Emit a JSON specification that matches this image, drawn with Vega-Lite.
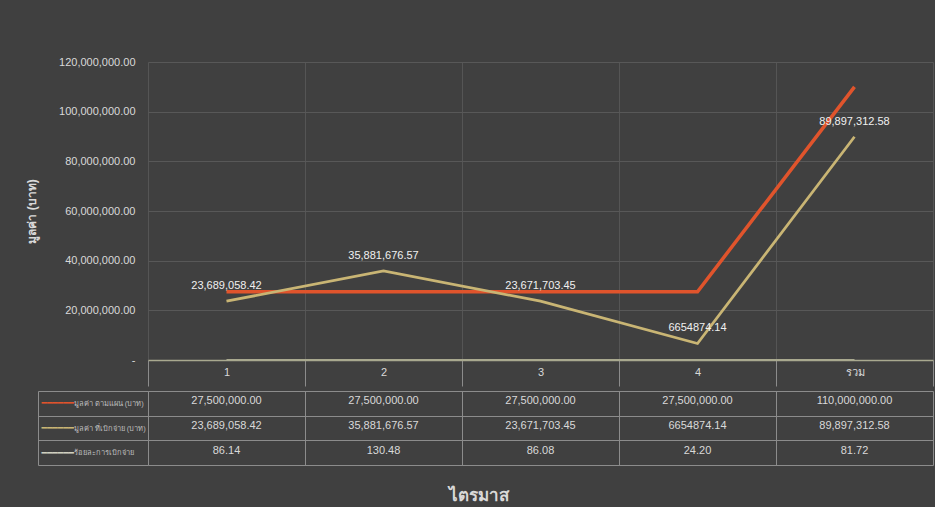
{
  "$schema": "https://vega.github.io/schema/vega-lite/v6.json",
  "background": "#404040",
  "padding": {"left": 25, "top": 56, "right": 2, "bottom": 4},
  "spacing": 0,
  "config": {
    "font": "Liberation Sans",
    "view": {"stroke": null},
    "axis": {"labelColor": "#d9d9d9", "titleColor": "#d9d9d9", "labelFont": "Liberation Sans", "titleFont": "Liberation Sans"}
  },
  "datasets": {
    "main": [
      {"q": "1", "s": "มูลค่า ตามแผน (บาท)", "v": 27500000, "t": "27,500,000.00"},
      {"q": "2", "s": "มูลค่า ตามแผน (บาท)", "v": 27500000, "t": "27,500,000.00"},
      {"q": "3", "s": "มูลค่า ตามแผน (บาท)", "v": 27500000, "t": "27,500,000.00"},
      {"q": "4", "s": "มูลค่า ตามแผน (บาท)", "v": 27500000, "t": "27,500,000.00"},
      {"q": "รวม", "s": "มูลค่า ตามแผน (บาท)", "v": 110000000, "t": "110,000,000.00"},
      {"q": "1", "s": "มูลค่า ที่เบิกจ่าย (บาท)", "v": 23689058.42, "t": "23,689,058.42"},
      {"q": "2", "s": "มูลค่า ที่เบิกจ่าย (บาท)", "v": 35881676.57, "t": "35,881,676.57"},
      {"q": "3", "s": "มูลค่า ที่เบิกจ่าย (บาท)", "v": 23671703.45, "t": "23,671,703.45"},
      {"q": "4", "s": "มูลค่า ที่เบิกจ่าย (บาท)", "v": 6654874.14, "t": "6654874.14"},
      {"q": "รวม", "s": "มูลค่า ที่เบิกจ่าย (บาท)", "v": 89897312.58, "t": "89,897,312.58"},
      {"q": "1", "s": "ร้อยละการเบิกจ่าย", "v": 86.14, "t": "86.14"},
      {"q": "2", "s": "ร้อยละการเบิกจ่าย", "v": 130.48, "t": "130.48"},
      {"q": "3", "s": "ร้อยละการเบิกจ่าย", "v": 86.08, "t": "86.08"},
      {"q": "4", "s": "ร้อยละการเบิกจ่าย", "v": 24.20, "t": "24.20"},
      {"q": "รวม", "s": "ร้อยละการเบิกจ่าย", "v": 81.72, "t": "81.72"}
    ]
  },
  "vconcat": [
    {
      "width": 785,
      "height": 298,
      "data": {"name": "main"},
      "encoding": {
        "x": {
          "field": "q", "type": "nominal", "sort": ["1", "2", "3", "4", "รวม"],
          "scale": {"type": "band", "paddingInner": 0, "paddingOuter": 0},
          "axis": {
            "title": null, "orient": "bottom", "tickBand": "extent",
            "grid": true, "gridColor": "#555555",
            "domain": true, "domainColor": "#a9a98f", "domainWidth": 1.5,
            "ticks": true, "tickSize": 26, "tickColor": "#8c8c8c",
            "labelPadding": -20, "labelAngle": 0, "labelFontSize": 11
          }
        },
        "y": {
          "field": "v", "type": "quantitative",
          "scale": {"domain": [0, 120000000], "nice": false},
          "axis": {
            "title": "มูลค่า (บาท)", "titleFontSize": 12, "titleFontWeight": "bold", "titlePadding": 20,
            "values": [0, 20000000, 40000000, 60000000, 80000000, 100000000, 120000000],
            "labelExpr": "datum.value == 0 ? '-' : format(datum.value, ',.2f')",
            "labelFontSize": 11, "labelPadding": 13,
            "ticks": false, "domain": false, "grid": true, "gridColor": "#585858"
          }
        }
      },
      "layer": [
        {
          "mark": {"type": "line"},
          "encoding": {
            "color": {
              "field": "s", "type": "nominal", "legend": null,
              "scale": {"domain": ["มูลค่า ตามแผน (บาท)", "มูลค่า ที่เบิกจ่าย (บาท)", "ร้อยละการเบิกจ่าย"], "range": ["#e0542c", "#c9b574", "#a9a98f"]}
            },
            "strokeWidth": {
              "field": "s", "type": "nominal", "legend": null,
              "scale": {"domain": ["มูลค่า ตามแผน (บาท)", "มูลค่า ที่เบิกจ่าย (บาท)", "ร้อยละการเบิกจ่าย"], "range": [3.5, 2, 2]}
            }
          }
        },
        {
          "transform": [{"filter": "datum.s === 'มูลค่า ที่เบิกจ่าย (บาท)'"}],
          "mark": {"type": "text", "dy": -15, "fontSize": 11, "color": "#f0f0f0"},
          "encoding": {"text": {"field": "t"}}
        }
      ]
    },
    {
      "width": 785,
      "height": 74,
      "data": {"name": "main"},
      "encoding": {
        "x": {
          "field": "q", "type": "nominal", "sort": ["1", "2", "3", "4", "รวม"],
          "scale": {"type": "band", "paddingInner": 0, "paddingOuter": 0},
          "axis": {
            "title": "ไตรมาส", "titleFontSize": 17, "titlePadding": 22, "titleX": 330,
            "labels": false, "ticks": false, "domain": false,
            "grid": true, "tickBand": "extent", "gridColor": "#8c8c8c"
          }
        }
      },
      "layer": [
        {
          "mark": {"type": "text", "fontSize": 11, "color": "#d9d9d9", "dy": -2},
          "encoding": {
            "y": {
              "field": "s", "type": "nominal",
              "sort": ["มูลค่า ตามแผน (บาท)", "มูลค่า ที่เบิกจ่าย (บาท)", "ร้อยละการเบิกจ่าย"],
              "scale": {"type": "band", "paddingInner": 0, "paddingOuter": 0},
              "axis": {
                "title": null, "orient": "left", "tickBand": "extent",
                "grid": true, "gridColor": "#8c8c8c",
                "domain": true, "domainColor": "#8c8c8c",
                "ticks": true, "tickSize": 110, "tickColor": "#8c8c8c",
                "labelAlign": "left", "labelPadding": -35, "labelFontSize": 7.5, "labelColor": "#bdbdbd"
              }
            },
            "text": {"field": "t"}
          }
        },
        {
          "mark": {"type": "text", "text": ""},
          "encoding": {
            "y": {
              "field": "s", "type": "nominal",
              "sort": ["มูลค่า ตามแผน (บาท)", "มูลค่า ที่เบิกจ่าย (บาท)", "ร้อยละการเบิกจ่าย"],
              "axis": {
                "title": null, "orient": "left", "offset": 110,
                "grid": false, "ticks": false, "domain": true, "domainColor": "#8c8c8c",
                "labelExpr": "'━━━━━━'", "labelAlign": "left", "labelPadding": -3, "labelFontSize": 9,
                "labelFont": "DejaVu Sans",
                "labelColor": {
                  "condition": [
                    {"test": "datum.value === 'มูลค่า ตามแผน (บาท)'", "value": "#e0542c"},
                    {"test": "datum.value === 'มูลค่า ที่เบิกจ่าย (บาท)'", "value": "#c9b574"}
                  ],
                  "value": "#d0d0c0"
                }
              }
            }
          }
        }
      ],
      "resolve": {"axis": {"y": "independent"}}
    }
  ]
}
